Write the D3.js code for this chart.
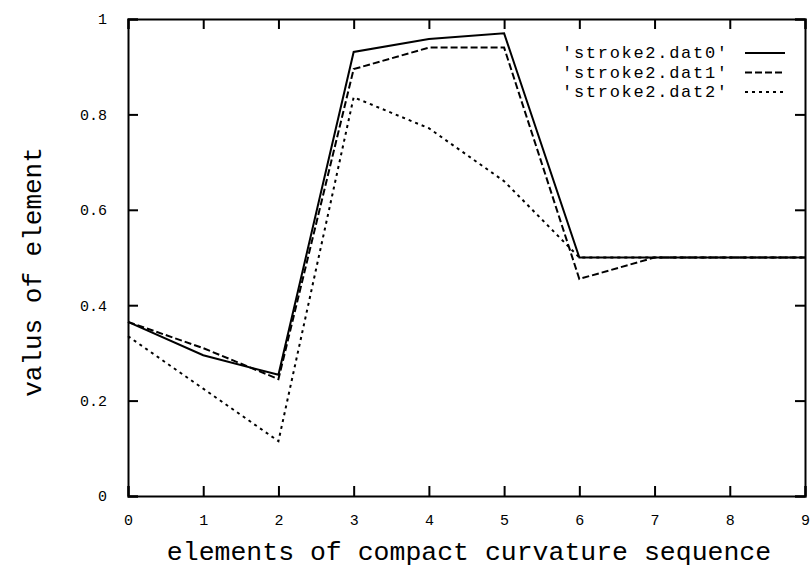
<!DOCTYPE html>
<html>
<head>
<meta charset="utf-8">
<script src="https://cdn.jsdelivr.net/npm/d3@7"></script>
<style>
  body { margin: 0; background: #fff; }
  text { font-family: "Liberation Mono", "DejaVu Sans Mono", monospace; fill: #000; }
</style>
</head>
<body>
<main></main>
<script>
var xs = [0, 1, 2, 3, 4, 5, 6, 7, 8, 9];
var dat0 = [0.365, 0.295, 0.254, 0.931, 0.958, 0.970, 0.500, 0.500, 0.500, 0.500];
var dat1 = [0.365, 0.310, 0.245, 0.895, 0.940, 0.940, 0.455, 0.500, 0.500, 0.500];
var dat2 = [0.335, 0.225, 0.115, 0.836, 0.771, 0.660, 0.500, 0.500, 0.500, 0.500];
var names = ["'stroke2.dat0'", "'stroke2.dat1'", "'stroke2.dat2'"];
var xTicks = [0, 1, 2, 3, 4, 5, 6, 7, 8, 9];
var yTicks = [0, 0.2, 0.4, 0.6, 0.8, 1];
var yLabels = ["0", "0.2", "0.4", "0.6", "0.8", "1"];

var W = 812, H = 567;
var margin = {top: 19, right: 7, bottom: 71, left: 128};
var w = W - margin.left - margin.right;
var h = H - margin.top - margin.bottom;

var svg = d3.select("main").append("svg")
            .attr("width", W)
            .attr("height", H);
var g = svg.append("g")
           .attr("transform", "translate(" + margin.left + "," + margin.top + ")");

var x = d3.scaleLinear().domain([0, 9]).range([0, w]);
var y = d3.scaleLinear().domain([0, 1]).range([h, 0]);

// axes with inward ticks on all four sides
var tk = 10;
g.append("g").attr("transform", "translate(0," + h + ")")
 .call(d3.axisBottom(x).tickValues(xTicks).tickSize(-tk).tickPadding(tk + 8).tickFormat(d3.format("d")));
g.append("g")
 .call(d3.axisTop(x).tickValues(xTicks).tickSize(-tk).tickFormat(""));
g.append("g")
 .call(d3.axisLeft(y).tickValues(yTicks).tickSize(-tk).tickPadding(tk + 11)
   .tickFormat(function(d, i) { return yLabels[i]; }));
g.append("g").attr("transform", "translate(" + w + ",0)")
 .call(d3.axisRight(y).tickValues(yTicks).tickSize(-tk).tickFormat(""));

g.selectAll(".domain").attr("stroke", "#000").attr("stroke-width", 2);
g.selectAll(".tick line").attr("stroke", "#000").attr("stroke-width", 2);
g.selectAll(".tick text").attr("font-size", 15)
 .style("font-family", "'Liberation Mono', monospace");

var series = [dat0, dat1, dat2];
var dashes = [null, "7,3", "3,4"];

var line = d3.line()
             .x(function(d, i) { return x(xs[i]); })
             .y(function(d) { return y(d); });

g.selectAll(".series")
 .data(series)
 .enter()
 .append("path")
 .attr("class", "series")
 .attr("d", line)
 .attr("fill", "none")
 .attr("stroke", "#000")
 .attr("stroke-width", 2)
 .attr("stroke-dasharray", function(d, i) { return dashes[i]; });

// legend
var leg = svg.append("g");
names.forEach(function(n, i) {
  var ly = 53 + i * 19.5;
  leg.append("text")
     .attr("x", 727)
     .attr("y", ly)
     .attr("dy", "0.32em")
     .attr("text-anchor", "end")
     .attr("font-size", 17)
     .attr("textLength", 165)
     .attr("lengthAdjust", "spacing")
     .text(n);
  leg.append("line")
     .attr("x1", 745).attr("x2", 785)
     .attr("y1", ly).attr("y2", ly)
     .attr("stroke", "#000")
     .attr("stroke-width", 2)
     .attr("stroke-dasharray", dashes[i]);
});

// axis titles
svg.append("text")
   .attr("x", 469)
   .attr("y", 560)
   .attr("text-anchor", "middle")
   .attr("font-size", 26.5)
   .text("elements of compact curvature sequence");
svg.append("text")
   .attr("transform", "translate(41,272) rotate(-90)")
   .attr("text-anchor", "middle")
   .attr("font-size", 26)
   .text("valus of element");
</script>
</body>
</html>
